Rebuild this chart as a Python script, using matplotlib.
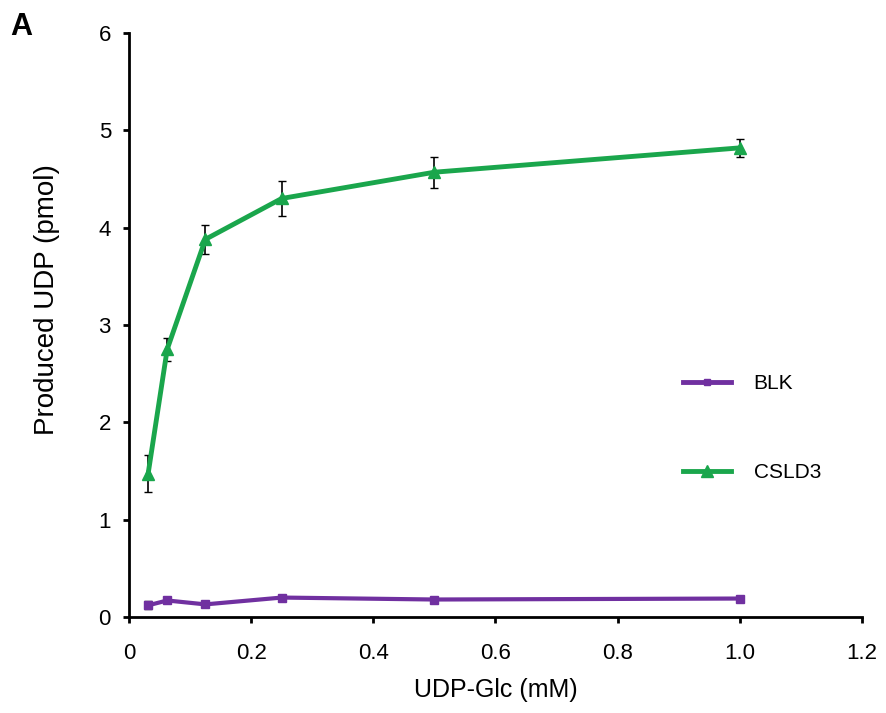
import matplotlib.pyplot as plt
from matplotlib.lines import Line2D

plt.rcParams['font.family'] = ['Liberation Sans', 'DejaVu Sans']

# UDP-Glc concentrations (mM)
conc = [0.03125, 0.0625, 0.125, 0.25, 0.5, 1.0]
blk = [0.12, 0.17, 0.13, 0.20, 0.18, 0.19]
blk_err = [0.04, 0.02, 0.02, 0.02, 0.01, 0.01]
csld3 = [1.47, 2.75, 3.88, 4.30, 4.57, 4.82]
csld3_err = [0.19, 0.12, 0.15, 0.18, 0.16, 0.09]

purple = '#7030a0'
green = '#1aa64c'

fig = plt.figure(figsize=(8.86, 7.13), dpi=100)
ax = fig.add_axes([0.1456, 0.1346, 0.8273, 0.8191])

ax.errorbar(conc, blk, yerr=blk_err, color=purple, lw=3, marker='s', ms=6,
            ecolor='black', elinewidth=1.2, capsize=3, zorder=3)
ax.errorbar(conc, csld3, yerr=csld3_err, color=green, lw=3.5, marker='^', ms=9,
            ecolor='black', elinewidth=1.2, capsize=3, zorder=3)

ax.set_xlim(0, 1.2)
ax.set_ylim(0, 6)
ax.set_xticks([0, 0.2, 0.4, 0.6, 0.8, 1.0, 1.2])
ax.set_xticklabels(['0', '0.2', '0.4', '0.6', '0.8', '1.0', '1.2'])
ax.set_yticks(range(7))
ax.tick_params(direction='out', length=4, width=2, labelsize=16)
ax.tick_params(axis='x', pad=15)
ax.tick_params(axis='y', pad=9)
for s in ['top', 'right']:
    ax.spines[s].set_visible(False)
for s in ['left', 'bottom']:
    ax.spines[s].set_linewidth(2)

ax.set_xlabel('UDP-Glc (mM)', fontsize=18, labelpad=10)
ax.set_ylabel('Produced UDP (pmol)', fontsize=20)
ax.yaxis.set_label_coords(-0.094, 0.543)

handles = [Line2D([], [], color=purple, lw=3.5, marker='s', ms=5),
           Line2D([], [], color=green, lw=3.5, marker='^', ms=8)]
ax.legend(handles, ['BLK', 'CSLD3'], loc='upper left', bbox_to_anchor=(0.73, 0.448),
          frameon=False, fontsize=15, labelspacing=3.35, handlelength=2.3,
          handletextpad=1.1)

fig.text(0.011, 0.951, 'A', fontsize=22, fontweight='bold')

fig.savefig('out.png', dpi=100)
